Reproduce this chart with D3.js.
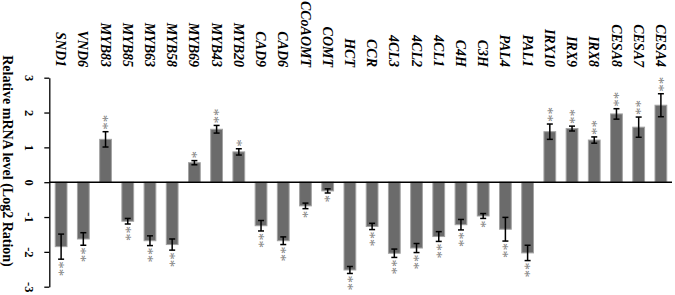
<!DOCTYPE html>
<html>
<head>
<meta charset="utf-8">
<script src="https://cdn.jsdelivr.net/npm/d3@7"></script>
<style>
  html, body { margin: 0; padding: 0; background: #fff; }
  svg { display: block; }
</style>
</head>
<body>
<svg id="chart" width="675" height="295"></svg>
<script>
const genes = ["SND1","VND6","MYB83","MYB85","MYB63","MYB58","MYB69","MYB43","MYB20","CAD9","CAD6","CCoAOMT","COMT","HCT","CCR","4CL3","4CL2","4CL1","C4H","C3H","PAL4","PAL1","IRX10","IRX9","IRX8","CESA8","CESA7","CESA4"];
const values = [-1.85,-1.63,1.23,-1.12,-1.68,-1.79,0.56,1.52,0.87,-1.25,-1.68,-0.68,-0.25,-2.52,-1.27,-2.04,-1.89,-1.56,-1.22,-0.97,-1.35,-2.03,1.45,1.54,1.21,1.96,1.58,2.21];
const errors = [0.36,0.18,0.22,0.08,0.14,0.16,0.06,0.11,0.09,0.15,0.11,0.08,0.06,0.10,0.09,0.12,0.13,0.14,0.15,0.07,0.34,0.22,0.22,0.07,0.09,0.15,0.29,0.33];
const stars = ["**","**","**","**","**","**","*","**","*","**","**","*","*","**","**","**","**","**","**","*","**","**","**","**","**","**","**","**"];
const yTicks = [-3,-2,-1,0,1,2,3];
const yTitle = "Relative mRNA level (Log2 Ration)";

const svg = d3.select("#chart");
const serif = "'Liberation Serif','Times New Roman',Times,serif";

const x = d3.scaleBand().domain(genes).range([50, 672]).paddingInner(0.47).paddingOuter(0.235);
const y = d3.scaleLinear().domain([-3, 3]).range([286.7, 77.7]);

const data = genes.map((g, i) => ({ g, v: values[i], e: errors[i], s: stars[i] }));

// bars
svg.append("g").selectAll("rect").data(data).join("rect")
  .attr("x", d => x(d.g))
  .attr("width", x.bandwidth())
  .attr("y", d => y(Math.max(0, d.v)))
  .attr("height", d => Math.abs(y(d.v) - y(0)))
  .attr("fill", "#6b6b6b")
  .attr("stroke", "#a3a3a3")
  .attr("stroke-width", 1);

// error bars
const eg = svg.append("g").attr("stroke", "#000").attr("stroke-width", 1.5);
data.forEach(d => {
  const cx = x(d.g) + x.bandwidth() / 2;
  const y1 = y(d.v - d.e), y2 = y(d.v + d.e);
  eg.append("line").attr("x1", cx).attr("x2", cx).attr("y1", y1).attr("y2", y2);
  eg.append("line").attr("x1", cx - 3).attr("x2", cx + 3).attr("y1", y1).attr("y2", y1);
  eg.append("line").attr("x1", cx - 3).attr("x2", cx + 3).attr("y1", y2).attr("y2", y2);
});

// significance stars
svg.append("g").selectAll("text").data(data).join("text")
  .attr("transform", d => {
    const cx = x(d.g) + x.bandwidth() / 2;
    const end = d.v >= 0 ? y(d.v + d.e) - 2 : y(d.v - d.e) + 2;
    return `translate(${cx},${end}) rotate(90)`;
  })
  .attr("text-anchor", d => d.v >= 0 ? "end" : "start")
  .attr("dy", "0.48em")
  .attr("font-family", serif)
  .attr("font-size", 15)
  .attr("fill", "#808080")
  .text(d => d.s);

// zero line
svg.append("line")
  .attr("x1", 49.3).attr("x2", 672)
  .attr("y1", y(0)).attr("y2", y(0))
  .attr("stroke", "#000").attr("stroke-width", 1.5);

// y axis
const ax = svg.append("g").attr("transform", "translate(49.3,0)")
  .call(d3.axisLeft(y).tickValues(yTicks).tickSize(5).tickSizeOuter(0).tickFormat(d => String(d)));
ax.select(".domain").attr("stroke", "#000").attr("stroke-width", 1.3);
ax.selectAll(".tick line").attr("stroke", "#000").attr("stroke-width", 1.3);
ax.selectAll(".tick text")
  .attr("x", null).attr("dy", null)
  .attr("transform", "translate(-24,0) rotate(90)")
  .attr("text-anchor", "middle")
  .attr("font-family", serif)
  .attr("font-weight", "bold")
  .attr("font-size", 12.5)
  .attr("fill", "#000");

// gene labels
svg.append("g").selectAll("text").data(genes).join("text")
  .attr("transform", g => `translate(${x(g) + x.bandwidth() / 2},67) rotate(90)`)
  .attr("text-anchor", "end")
  .attr("dy", "0.35em")
  .attr("font-family", serif)
  .attr("font-weight", "bold")
  .attr("font-style", "italic")
  .attr("font-size", 14)
  .text(g => g);

// y title
svg.append("text")
  .attr("transform", "translate(3,161) rotate(90)")
  .attr("text-anchor", "middle")
  .attr("font-family", serif)
  .attr("font-weight", "bold")
  .attr("font-size", 14)
  .text(yTitle);
</script>
</body>
</html>
